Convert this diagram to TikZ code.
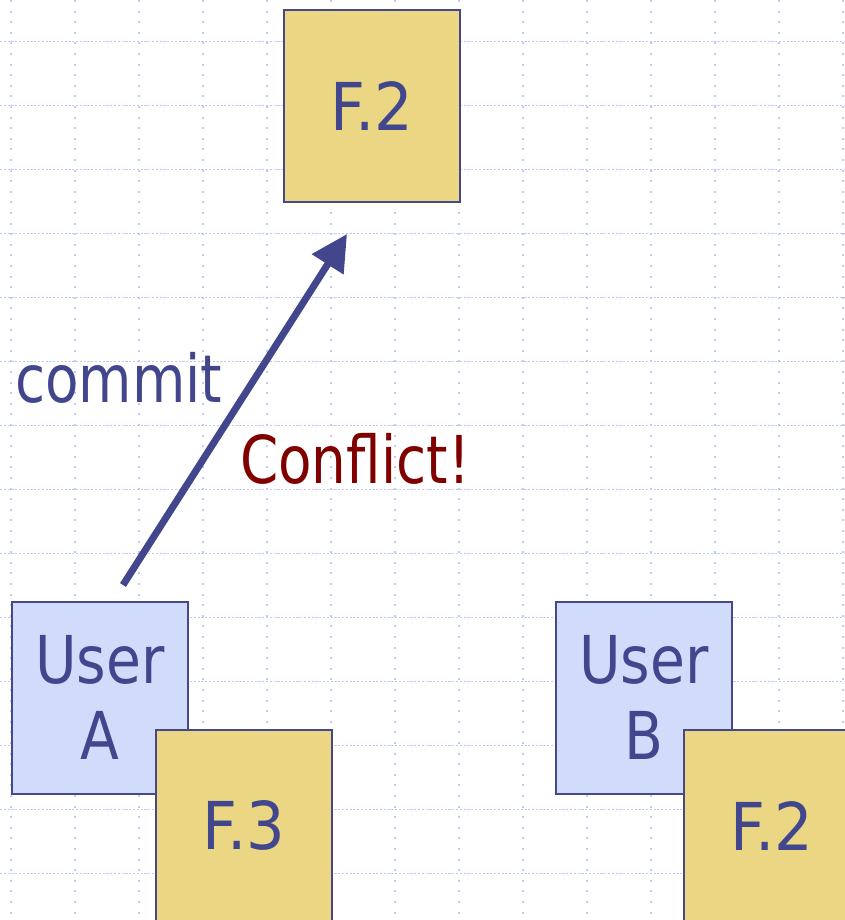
\documentclass[tikz,border=0pt]{standalone}
\usepackage{fontspec}
\setmainfont{DejaVu Sans}[FakeStretch=0.86]
\newfontfamily\labelfont{DejaVu Sans}[FakeStretch=0.83]
\newfontfamily\filefont{DejaVu Sans}[FakeStretch=0.92]
\usetikzlibrary{arrows.meta}

\definecolor{gridc}{RGB}{190,202,250}
\definecolor{inkblue}{RGB}{66,70,140}
\definecolor{edgeblue}{RGB}{70,72,140}
\definecolor{filefill}{RGB}{235,215,131}
\definecolor{userfill}{RGB}{208,220,250}
\definecolor{warnred}{RGB}{128,0,0}

\tikzset{
  box/.style={draw=edgeblue, line width=1.6pt, minimum width=176pt,
    minimum height=192pt, inner sep=0pt, text=inkblue,
    font=\fontsize{66}{76}\selectfont, align=center, anchor=north west},
  filebox/.style={box, fill=filefill, font=\filefont\fontsize{66}{76}\selectfont},
  userbox/.style={box, fill=userfill},
  hgrid/.style={gridc, line width=1.3pt, dash pattern=on 2.2pt off 1.6pt},
  vgrid/.style={gridc, line width=1.3pt, dash pattern=on 2pt off 8.6pt},
  label/.style={font=\labelfont\fontsize{66}{76}\selectfont, inner sep=0pt, anchor=base west},
  commitarrow/.style={draw=inkblue, line width=7pt,
    -{Triangle[length=36pt,width=36pt]}}
}

\begin{document}
\begin{tikzpicture}[x=1pt,y=-1pt]
  \useasboundingbox (0,0) rectangle (844,920);

  % dotted background grid
  \foreach \k in {0,...,13} {
    \draw[hgrid] (0,{41.7+64*\k}) -- (844,{41.7+64*\k});
    \draw[vgrid] ({11+64*\k},0) -- ({11+64*\k},920);
  }

  % repository copy
  \node[filebox] (repo) at (283,9) {F.2};

  % working copies
  \node[userbox] (userA) at (11,601) {User\\A};
  \node[filebox] (fileA) at (155,729) {F.3};
  \node[userbox] (userB) at (555,601) {User\\B};
  \node[filebox] (fileB) at (683,729) {F.2};

  % commit attempt
  \coordinate (tail) at (123,585);
  \coordinate (tip) at (347,234);
  \draw[commitarrow] (tail) -- (tip);

  \node[label, text=inkblue] (commitlbl) at (15,402.5) {commit};
  \node[label, text=warnred] (conflictlbl) at (240,483.5) {Conflict!};
\end{tikzpicture}
\end{document}
